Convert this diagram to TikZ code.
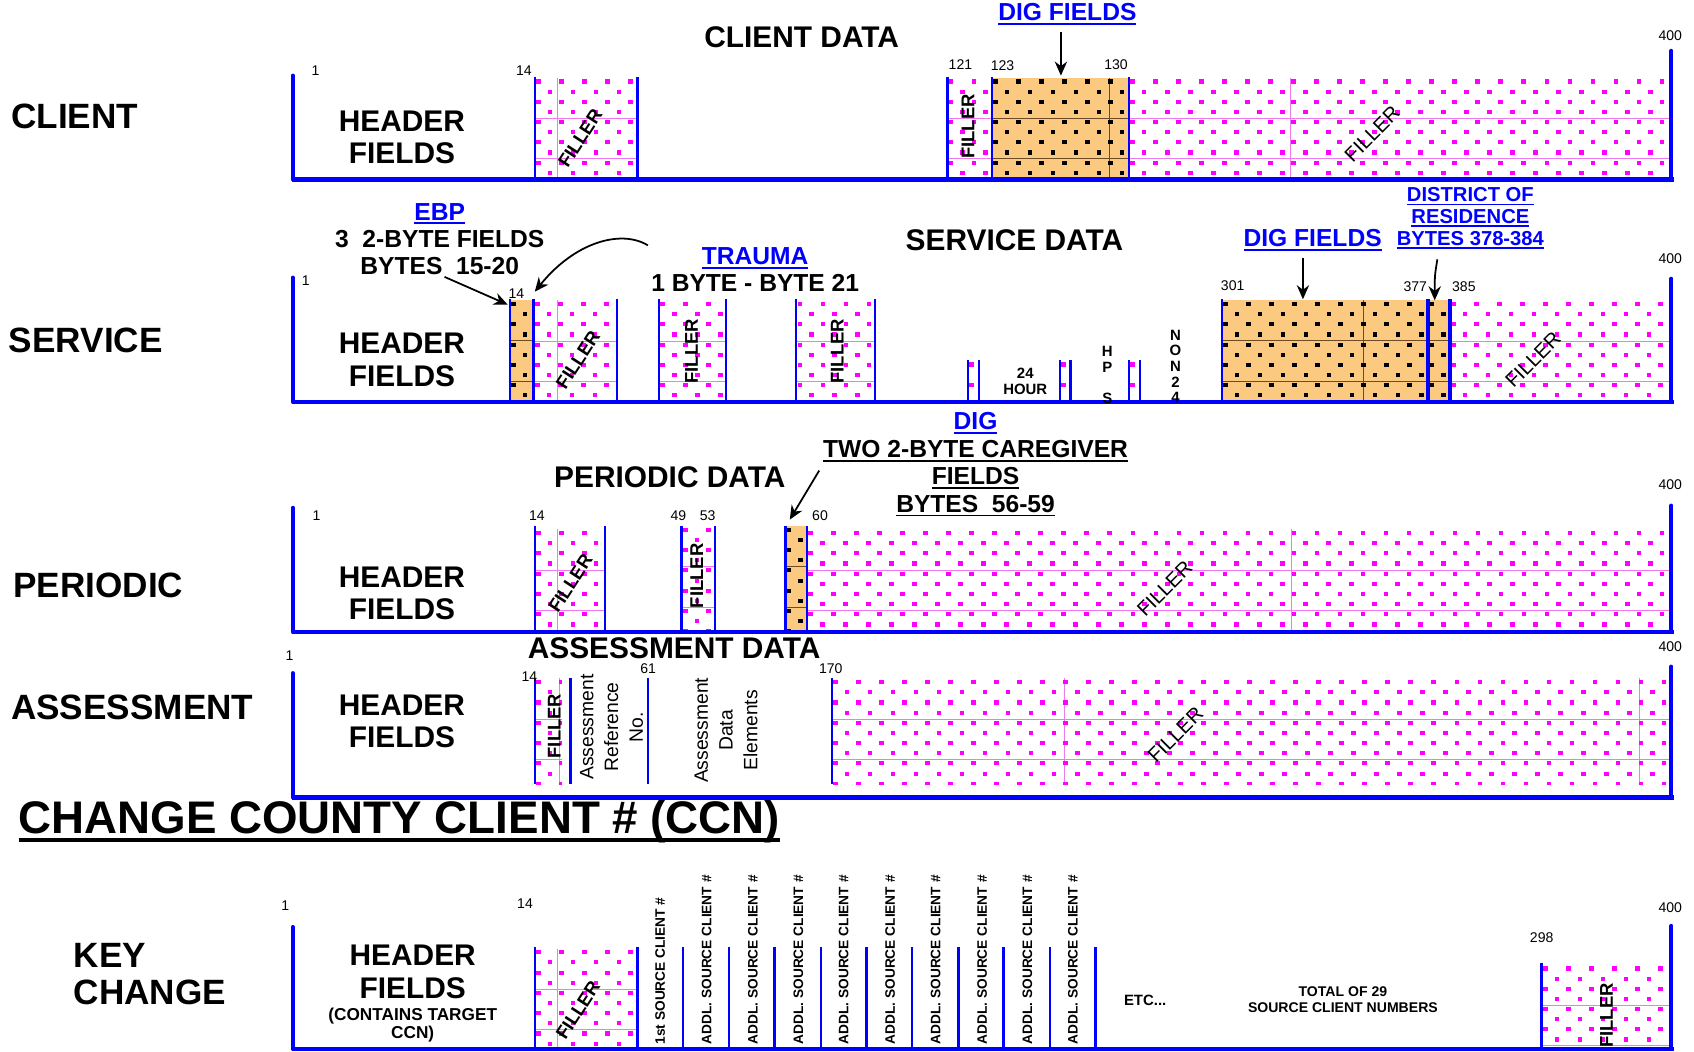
\documentclass[tikz,border=0pt]{standalone}
\usepackage{fontspec}
\setmainfont{Liberation Sans}
\usetikzlibrary{arrows.meta,positioning}
\definecolor{fieldblue}{RGB}{0,0,255}
\definecolor{fillmagenta}{RGB}{255,0,255}
\definecolor{gridpink}{RGB}{240,120,240}
\definecolor{digorange}{RGB}{251,201,128}
\definecolor{digbrown}{RGB}{110,75,35}

% thick underline for the link-like labels
\newsavebox{\ulbox}
\newcommand{\ulined}[1]{\sbox{\ulbox}{#1}\rlap{\rule[-0.17em]{\wd\ulbox}{0.075em}}\usebox{\ulbox}}

% magenta dotted filler: x1, y1, x2, y2, vertical grid lines
\newcommand{\fillerarea}[5]{%
  \begin{scope}
    \clip (#1,#2) rectangle (#3,#4);
    \pgfmathtruncatemacro{\ncols}{(#3-#1)/21.3}
    \pgfmathtruncatemacro{\nrows}{(#4-#2)/18.8}
    \foreach \j in {1,2,3} \draw[gridpink, line width=0.4pt] (#1,#2+\j*37.5) -- (#3,#2+\j*37.5);
    \foreach \v in {#5} \draw[gridpink, line width=0.4pt] (\v,#2) -- (\v,#4);
    \foreach \i in {0,...,\ncols}
      \foreach \j in {0,...,\nrows}
      {
        \fill[fillmagenta] (#1+1.2+\i*21.3,#2+1.5+\j*18.8) rectangle ++(4.3,3.8);
        \fill[fillmagenta] (#1+11.9+\i*21.3,#2+10.9+\j*18.8) rectangle ++(4.3,3.8);
      }
  \end{scope}}

% orange DIG area with black dots
\newcommand{\digarea}[5]{%
  \begin{scope}
    \clip (#1,#2) rectangle (#3,#4);
    \fill[digorange] (#1,#2) rectangle (#3,#4);
    \pgfmathtruncatemacro{\ncols}{(#3-#1)/21.3}
    \pgfmathtruncatemacro{\nrows}{(#4-#2)/18.8}
    \foreach \j in {1,2,3} \draw[digbrown, line width=0.5pt] (#1,#2+\j*37.5) -- (#3,#2+\j*37.5);
    \foreach \v in {#5} \draw[digbrown, line width=0.5pt] (\v,#2) -- (\v,#4);
    \foreach \i in {0,...,\ncols}
      \foreach \j in {0,...,\nrows}
      {
        \fill (#1+1.2+\i*21.3,#2+1.5+\j*18.8) rectangle ++(4.3,3.8);
        \fill (#1+11.9+\i*21.3,#2+10.9+\j*18.8) rectangle ++(4.3,3.8);
      }
  \end{scope}}

\begin{document}
\begin{tikzpicture}[x=0.0216cm, y=-0.0216cm,
    endbar/.style={fieldblue, line width=2.3pt, line cap=round},
    fieldbar/.style={fieldblue, line width=1.4pt},
    thickbar/.style={fieldblue, line width=2.4pt},
    basebar/.style={fieldblue, line width=2.6pt},
    bytenum/.style={font=\fontsize{8}{8}\selectfont, inner sep=0pt},
    rowname/.style={font=\bfseries\fontsize{20}{21}\selectfont, anchor=west, inner sep=0pt, align=left},
    datatitle/.style={font=\bfseries\fontsize{17}{17}\selectfont, inner sep=0pt},
    hdrtext/.style={font=\bfseries\fontsize{17}{18.4}\selectfont, align=center, inner sep=0pt},
    fillertxt/.style={font=\bfseries\fontsize{10.5}{10.5}\selectfont, inner sep=0pt},
    note/.style={font=\bfseries\fontsize{14}{15.4}\selectfont, align=center, inner sep=0pt},
    smallnote/.style={font=\bfseries\fontsize{8.5}{8.9}\selectfont, align=center, inner sep=0pt},
    colname/.style={font=\bfseries\fontsize{7.8}{7.8}\selectfont, rotate=90, anchor=west, inner sep=0pt},
    pointer/.style={-{Stealth[length=8pt,width=7pt]}, line width=1pt}]
    \useasboundingbox (0,0) rectangle (1568,973);

    % Row names and headings
    \node[rowname] (lblClient) at (10,108) {CLIENT};
    \node[rowname] (lblService) at (8,315) {SERVICE};
    \node[rowname] (lblPeriodic) at (12,542) {PERIODIC};
    \node[rowname] (lblAssess) at (10,655) {ASSESSMENT};
    \node[rowname] (lblKey) at (68,902) {KEY\\CHANGE};
    \node[font=\bfseries\fontsize{26}{26}\selectfont, anchor=west, inner sep=0pt] (ccnTitle) at (17,761) {\ulined{CHANGE COUNTY CLIENT \# (CCN)}};

    \node[datatitle] (ttlClient) at (742,34) {CLIENT DATA};
    \node[datatitle] (ttlService) at (939,222) {SERVICE DATA};
    \node[datatitle] (ttlPeriodic) at (620,442) {PERIODIC DATA};
    \node[datatitle] (ttlAssess) at (624,600) {ASSESSMENT DATA};

    % ---- CLIENT ----
    \fillerarea{495}{72}{590}{166}{516}
    \fillerarea{877}{72}{918}{166}{-10}
    \digarea{918}{72}{1045}{166}{1027}
    \fillerarea{1045}{72}{1547}{166}{1194}
    \draw[endbar] (271,70) -- (271,166);
    \draw[endbar] (1547,47) -- (1547,166);
    \foreach \bx in {495,590,877,918,1045}
        \draw[fieldbar] (\bx,71) -- (\bx,166);
    \draw[basebar] (270,166) -- (1549,166);

    \node[hdrtext] (hdrClient) at (372,127) {HEADER\\FIELDS};
    \node[fillertxt, rotate=57] (fillC1) at (537,128) {FILLER};
    \node[fillertxt, rotate=90] (fillC2) at (896,117) {FILLER};
    \node[fillertxt, rotate=45, font=\fontsize{11.5}{11.5}\selectfont] (fillC3) at (1270,124) {FILLER};
    \node[bytenum] (cn1) at (292,65) {1};
    \node[bytenum] (cn14) at (485,65) {14};
    \node[bytenum] (cn121) at (889,60) {121};
    \node[bytenum] (cn123) at (928,61) {123};
    \node[bytenum] (cn130) at (1033,60) {130};
    \node[bytenum] (cn400) at (1546,33) {400};
    \node[note, text=fieldblue] (digClient) at (988,13) {\ulined{DIG FIELDS}};
    \coordinate (digClientTip) at (982,70);
    \draw[pointer, shorten <=4pt] (digClientTip |- digClient.south) -- (digClientTip);

    % ---- SERVICE ----
    \digarea{472}{278}{494}{372}{-10}
    \fillerarea{494}{278}{571}{372}{516}
    \fillerarea{610}{278}{672}{372}{-10}
    \fillerarea{737}{278}{810}{372}{-10}
    \fillerarea{896}{334}{906}{372}{-10}
    \fillerarea{981}{334}{991}{372}{-10}
    \fillerarea{1045}{334}{1055}{372}{-10}
    \digarea{1131}{278}{1322}{372}{1262}
    \digarea{1322}{278}{1342}{372}{-10}
    \fillerarea{1342}{278}{1547}{372}{-10}
    \draw[endbar] (271,257) -- (271,372);
    \draw[endbar] (1547,258) -- (1547,372);
    \foreach \bx in {472,494,571,610,672,737,810,1131}
        \draw[fieldbar] (\bx,277) -- (\bx,372);
    \foreach \bx in {1322,1342}
        \draw[thickbar] (\bx,277) -- (\bx,372);
    \foreach \bx in {896,906,981,991,1045,1055}
        \draw[fieldbar] (\bx,333) -- (\bx,372);
    \draw[basebar] (270,372) -- (1549,372);

    \node[hdrtext] (hdrService) at (372,333) {HEADER\\FIELDS};
    \node[fillertxt, rotate=57] (fillS1) at (535,333) {FILLER};
    \node[fillertxt, rotate=90] (fillS2) at (640,325) {FILLER};
    \node[fillertxt, rotate=90] (fillS3) at (775,325) {FILLER};
    \node[fillertxt, rotate=45, font=\fontsize{11.5}{11.5}\selectfont] (fillS4) at (1419,333) {FILLER};
    \node[smallnote] (hour24) at (949,353) {24\\HOUR};
    \node[smallnote] (hps) at (1025,347) {H\\P\\~\\S};
    \node[smallnote] (non24) at (1088,339) {N\\O\\N\\2\\4};
    \node[bytenum] (sn1) at (283,260) {1};
    \node[bytenum] (sn14) at (478,272) {14};
    \node[bytenum] (sn301) at (1141,264) {301};
    \node[bytenum] (sn377) at (1310,265) {377};
    \node[bytenum] (sn385) at (1355,265) {385};
    \node[bytenum] (sn400) at (1546,239) {400};

    \node[note] (ebp) at (407,221) {\textcolor{fieldblue}{\ulined{EBP}}\\3~~2-BYTE FIELDS\\BYTES~~15-20};
    \node[note] (trauma) at (699,249.5) {\textcolor{fieldblue}{\ulined{TRAUMA}}\\1 BYTE - BYTE 21};
    \node[note, text=fieldblue] (digService) at (1215,222) {\ulined{DIG FIELDS}};
    \node[note, text=fieldblue, font=\bfseries\fontsize{11.5}{12.3}\selectfont] (district) at (1361,202) {\ulined{DISTRICT OF}\\\ulined{RESIDENCE}\\\ulined{BYTES 378-384}};
    \coordinate (ebpTip) at (470,282);
    \coordinate (traumaTip) at (495,270);
    \coordinate (digServiceTip) at (1206,277);
    \coordinate (districtTip) at (1328,278);
    \draw[pointer, shorten <=3pt] (ebp.south) -- (ebpTip);
    \draw[pointer, shorten <=2pt] (trauma.north west) .. controls (575,212) and (532,224) .. (traumaTip);
    \draw[pointer, shorten <=4pt] (digServiceTip |- digService.south) -- (digServiceTip);
    \draw[pointer, shorten <=6pt] (district.south -| 1332,0) .. controls (1328,255) .. (districtTip);

    % ---- PERIODIC ----
    \fillerarea{495}{490}{560}{585}{516}
    \fillerarea{631}{487}{662}{585}{-10}
    \digarea{727}{487}{747}{585}{-10}
    \fillerarea{747}{490}{1547}{585}{1195}
    \draw[endbar] (271,470) -- (271,585);
    \draw[endbar] (1547,468) -- (1547,585);
    \foreach \bx in {495,560,631,662,727,747}
        \draw[fieldbar] (\bx,487) -- (\bx,585);
    \draw[basebar] (270,585) -- (1549,585);

    \node[hdrtext] (hdrPeriodic) at (372,549) {HEADER\\FIELDS};
    \node[fillertxt, rotate=57] (fillP1) at (528,540) {FILLER};
    \node[fillertxt, rotate=90] (fillP2) at (645,533) {FILLER};
    \node[fillertxt, rotate=45, font=\fontsize{11.5}{11.5}\selectfont] (fillP3) at (1078,545) {FILLER};
    \node[bytenum] (pn1) at (293,477) {1};
    \node[bytenum] (pn14) at (497,477) {14};
    \node[bytenum] (pn49) at (628,477) {49};
    \node[bytenum] (pn53) at (655,477) {53};
    \node[bytenum] (pn60) at (759,477) {60};
    \node[bytenum] (pn400) at (1546,449) {400};
    \node[note, font=\bfseries\fontsize{14}{15.6}\selectfont] (digPeriodic) at (903,430) {\textcolor{fieldblue}{\ulined{DIG}}\\\ulined{TWO 2-BYTE CAREGIVER}\\\ulined{FIELDS}\\\ulined{BYTES~~56-59}};
    \coordinate (digPeriodicTip) at (731,481);
    \draw[pointer, shorten <=4pt] (digPeriodic.west) -- (digPeriodicTip);

    % ---- ASSESSMENT ----
    \fillerarea{495}{628}{520}{726}{518}
    \fillerarea{770}{628}{1547}{726}{985,1517}
    \draw[endbar] (271,623) -- (271,738);
    \draw[endbar] (1547,617) -- (1547,738);
    \foreach \bx in {495,528,600,770}
        \draw[fieldbar] (\bx,628) -- (\bx,726);
    \draw[basebar] (270,738) -- (1549,738);

    \node[hdrtext] (hdrAssess) at (372,668) {HEADER\\FIELDS};
    \node[fillertxt, rotate=90] (fillA1) at (513,672) {FILLER};
    \node[fillertxt, rotate=45, font=\fontsize{11.5}{11.5}\selectfont] (fillA2) at (1088,680) {FILLER};
    \node[rotate=90, align=center, inner sep=0pt, font=\fontsize{11}{14.1}\selectfont] (assessRef) at (566,673) {Assessment\\Reference\\No.};
    \node[rotate=90, align=center, inner sep=0pt, font=\fontsize{11}{14.1}\selectfont] (assessData) at (672,676) {Assessment\\Data\\Elements};
    \node[bytenum] (an1) at (268,607) {1};
    \node[bytenum] (an14) at (490,626) {14};
    \node[bytenum] (an61) at (600,619) {61};
    \node[bytenum] (an170) at (769,619) {170};
    \node[bytenum] (an400) at (1546,599) {400};

    % ---- KEY CHANGE ----
    \fillerarea{495}{878}{590}{971}{516}
    \fillerarea{1427}{893}{1547}{971}{-10}
    \draw[endbar] (271,858) -- (271,971);
    \draw[endbar] (1547,857) -- (1547,971);
    \foreach \bx in {495,590,632,675,717,760,802,844,887,929,972,1014}
        \draw[fieldbar] (\bx,877) -- (\bx,971);
    \draw[fieldbar] (1427,891) -- (1427,971);
    \draw[basebar] (270,971) -- (1549,971);

    \node[hdrtext] (hdrKey) at (382,899.5) {HEADER\\FIELDS};
    \node[smallnote, font=\bfseries\fontsize{9.8}{10.4}\selectfont] (hdrKeyNote) at (382,948.5) {(CONTAINS TARGET\\CCN)};
    \node[fillertxt, rotate=57] (fillK1) at (535,935) {FILLER};
    \node[fillertxt, rotate=90] (fillK2) at (1487,940) {FILLER};
    \node[colname] (src1) at (611,967) {1st SOURCE CLIENT \#};
    \foreach \cx [count=\k] in {654,697,739,781,824,866,909,951,993}
        \node[colname] (addl\k) at (\cx,967) {ADDL. SOURCE CLIENT \#};
    \node[smallnote] (etc) at (1060,926) {ETC...};
    \node[smallnote, font=\bfseries\fontsize{8}{9.2}\selectfont] (total29) at (1243,925) {TOTAL OF 29\\SOURCE CLIENT NUMBERS};
    \node[bytenum] (kn1) at (264,838) {1};
    \node[bytenum] (kn14) at (486,836) {14};
    \node[bytenum] (kn298) at (1427,868) {298};
    \node[bytenum] (kn400) at (1546,840) {400};
\end{tikzpicture}
\end{document}
